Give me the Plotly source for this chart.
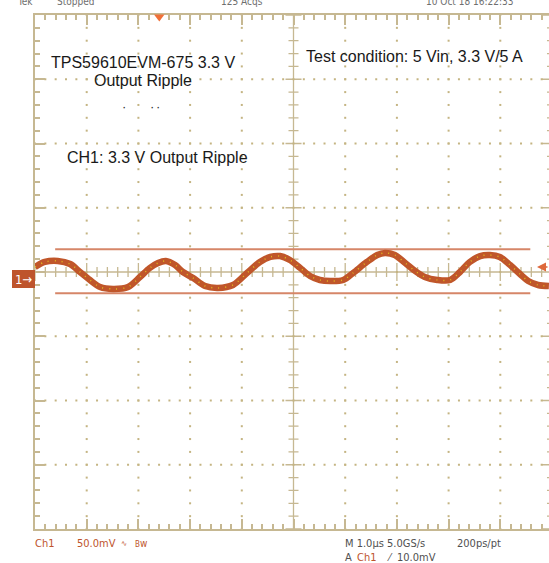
import plotly.graph_objects as go

# ---------------- data ----------------
# time in microseconds (1 us/div), ripple in mV (50 mV/div), centred on screen
time_us = [-5.00, -4.81, -4.56, -4.32, -4.13, -3.94, -3.74, -3.49, -3.20, -2.97,
           -2.78, -2.62, -2.47, -2.29, -2.14, -1.94, -1.71, -1.46, -1.17, -0.90,
           -0.65, -0.45, -0.26, -0.07, 0.13, 0.32, 0.51, 0.71, 0.96, 1.15,
           1.42, 1.62, 1.77, 1.96, 2.16, 2.35, 2.54, 2.78, 3.03, 3.22,
           3.41, 3.61, 3.80, 3.99, 4.19, 4.38, 4.54, 4.73, 4.94]
ripple_mV = [3.9, 7.8, 8.6, 6.2, 0.0, -6.2, -11.7, -13.2, -11.7, -3.9,
             3.1, 7.0, 8.6, 5.4, 0.0, -4.7, -10.9, -12.4, -10.1, -0.8,
             7.8, 11.7, 12.4, 9.3, 3.1, -3.1, -6.2, -7.0, -6.2, -0.8,
             7.8, 13.2, 14.8, 13.2, 7.0, 0.8, -3.9, -6.2, -6.2, 0.0,
             7.8, 12.4, 13.2, 11.7, 5.4, -1.6, -7.0, -10.1, -10.9]
cursor_levels_mV = [17.7, -16.6]
cursor_span_us = [-4.61, 4.58]

header_texts = ["Tek", "Stopped", "125 Acqs", "10 Oct 18 16:22:33"]
title_lines = ["TPS59610EVM-675 3.3 V", "Output Ripple"]
channel_note = "CH1: 3.3 V Output Ripple"
condition_note = "Test condition: 5 Vin, 3.3 V/5 A"

# ---------------- style ----------------
W, H = 549, 563
L, T, B = 35, 15, 34
PW, PH = 514, 514
GRAT = "rgb(198,184,146)"
DOT = "rgb(196,180,130)"
WAVE = "rgb(192,86,42)"
YEL = "rgb(232,205,30)"
CUR = "rgb(214,134,104)"
ORG = "rgb(190,84,44)"
GRAY = "rgb(80,80,80)"
COND = "DejaVu Sans Condensed, Liberation Sans Narrow, sans-serif"
SANS = "Liberation Sans, Arial, sans-serif"
RD = 11  # readout font size

XDIV_PX = 51.7    # px per us
YDIV_PX = 64.25   # px per 50 mV
X_MIN, X_MAX = -5.0, -5.0 + PW / XDIV_PX


def pxx(x):
    return (x - L) / PW


def pxy(y):
    return (H - B - y) / PH


fig = go.Figure()

# graticule dots on the major grid lines
dx, dy = [], []
for i in range(-4, 5):
    if i == 0:
        continue
    for k in range(-20, 21):
        dx.append(float(i))
        dy.append(k * 10.0)
for j in (-3, -2, -1, 1, 2, 3):
    for k in range(-25, 25):
        dx.append(k * 0.2)
        dy.append(j * 50.0)
fig.add_trace(go.Scatter(x=dx, y=dy, mode="markers", hoverinfo="skip",
                         marker=dict(symbol="square", size=2, color=DOT, line=dict(width=0))))

# centre cross with ticks (path shapes)
path = f"M {X_MIN},0 L {X_MAX},0 M 0,-200 L 0,200 "
ty_min = 5 / YDIV_PX * 50
ty_maj = 9 / YDIV_PX * 50
for k in range(-25, 25):
    x = k * 0.2
    h = ty_maj if k % 5 == 0 else ty_min
    path += f"M {x:.3f},{-h:.3f} L {x:.3f},{h:.3f} "
tx_min = 5 / XDIV_PX
tx_maj = 8 / XDIV_PX
for k in range(-20, 21):
    y = k * 10.0
    w = tx_maj if k % 5 == 0 else tx_min
    path += f"M {-w:.3f},{y} L {w:.3f},{y} "
# right-border ticks (border itself lies just outside the picture)
for k in range(-20, 21):
    y = k * 10.0
    ln = 10 if k % 5 == 0 else 5
    path += f"M {5.0 - ln / XDIV_PX:.3f},{y} L {X_MAX},{y} "
fig.add_shape(type="path", path=path, xref="x", yref="y",
              line=dict(color=GRAT, width=1.3), layer="below")

# cursors
for lvl in cursor_levels_mV:
    fig.add_trace(go.Scatter(x=cursor_span_us, y=[lvl, lvl], mode="lines",
                             hoverinfo="skip", line=dict(color=CUR, width=2)))

# waveform
fig.add_trace(go.Scatter(x=time_us, y=ripple_mV, mode="lines", hoverinfo="skip",
                         line=dict(color=WAVE, width=6.5, shape="spline", smoothing=0.9)))
fig.add_trace(go.Scatter(x=time_us, y=ripple_mV, mode="lines", hoverinfo="skip", opacity=0.85,
                         line=dict(color=YEL, width=1.5, shape="spline", smoothing=0.9,
                                   dash="1px,6px")))

axis_common = dict(showgrid=False, zeroline=False, showticklabels=False,
                   ticks="inside", ticklen=10, tickwidth=1.5, tickcolor=GRAT,
                   showline=True, linewidth=2, linecolor=GRAT)

fig.update_layout(
    width=W, height=H, autosize=False,
    margin=dict(l=L, r=0, t=T, b=B, pad=0),
    paper_bgcolor="white", plot_bgcolor="white",
    showlegend=False,
    xaxis=dict(range=[X_MIN, X_MAX], dtick=1, tick0=0, mirror="ticks",
               minor=dict(ticks="inside", dtick=0.2, tick0=0, ticklen=5,
                          tickwidth=1.5, tickcolor=GRAT, showgrid=False),
               **axis_common),
    yaxis=dict(range=[-200, 200], dtick=50, tick0=0, mirror=False,
               minor=dict(ticks="inside", dtick=10, tick0=0, ticklen=5,
                          tickwidth=1.5, tickcolor=GRAT, showgrid=False),
               **axis_common),
)

ann = []


def add_text(text, x, y, size, color, family, xanchor="left", yanchor="middle"):
    ann.append(dict(text=text, x=pxx(x), y=pxy(y), xref="paper", yref="paper",
                    showarrow=False, xanchor=xanchor, yanchor=yanchor,
                    font=dict(size=size, color=color, family=family), borderpad=0))


# header (mostly cut off at the top)
for txt, x in zip(header_texts, [16, 56, 220, 425]):
    add_text(txt, x, 8, 10, "rgb(110,110,110)", COND, yanchor="bottom")

add_text(title_lines[0], 143, 62, 16, "rgb(25,25,25)", SANS, xanchor="center")
add_text(title_lines[1], 143, 80.5, 16, "rgb(25,25,25)", SANS, xanchor="center")
for x in (124, 152, 158):
    add_text("·", x, 106, 13, "rgb(40,40,40)", SANS, xanchor="center")
add_text(channel_note, 157, 157, 16, "rgb(25,25,25)", SANS, xanchor="center")
add_text(condition_note, 305, 56, 16, "rgb(25,25,25)", SANS)

# bottom readouts
add_text("Ch1", 34, 543, RD, ORG, COND)
add_text("50.0mV", 76, 543, RD, ORG, COND)
add_text("∿", 120, 543, 8, ORG, COND)
add_text("<span style='font-size:8px'>B</span>w", 134, 543, 10, ORG, COND)
add_text("M 1.0µs 5.0GS/s", 344, 543, RD, GRAY, COND)
add_text("200ps/pt", 456, 543, RD, GRAY, COND)
add_text("A", 344, 557, RD, GRAY, COND)
add_text("Ch1", 356, 557, RD, ORG, COND)
add_text("⁄", 386, 557, RD, GRAY, COND)
add_text("10.0mV", 396, 557, RD, GRAY, COND)

# channel ground marker
fig.add_shape(type="rect", xref="paper", yref="paper",
              x0=pxx(12), x1=pxx(35), y0=pxy(288), y1=pxy(270),
              fillcolor=ORG, line=dict(width=0), layer="above")
add_text("1→", 23.5, 279.5, 13, "white", COND, xanchor="center")

# trigger level arrow (right edge)
ann.append(dict(text="", x=pxx(537), y=pxy(267), xref="paper", yref="paper",
                showarrow=True, ax=13, ay=0, arrowhead=2, arrowsize=1.2,
                arrowwidth=1.5, arrowcolor="rgb(222,104,60)"))

fig.update_layout(annotations=ann)

# trigger position marker (top)
fig.add_shape(type="path", xref="paper", yref="paper",
              path=f"M {pxx(154)},{pxy(14.5)} L {pxx(164.5)},{pxy(14.5)} L {pxx(159.3)},{pxy(21.5)} Z",
              fillcolor="rgb(240,112,56)", line=dict(width=0), layer="above")

fig.write_html("out.html", config={"displayModeBar": False},
               post_script="document.body.style.margin='0px';")
